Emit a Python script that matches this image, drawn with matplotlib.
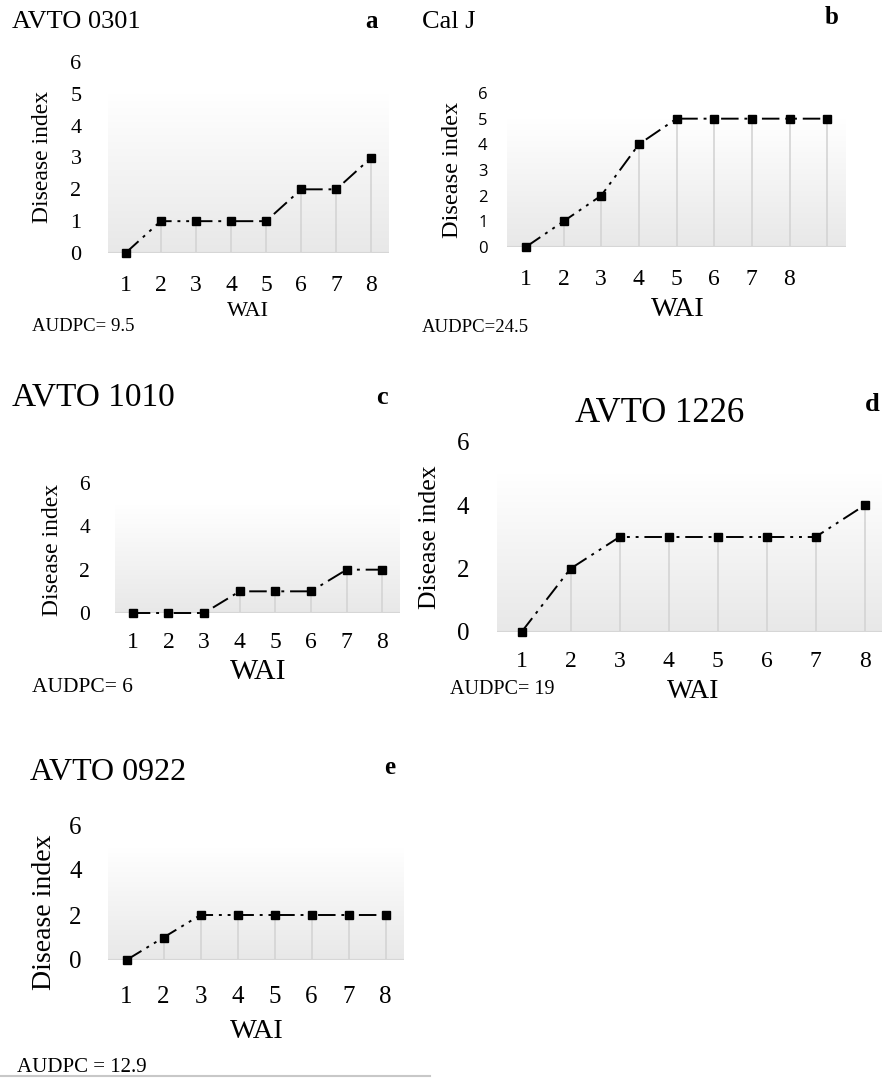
import numpy as np
import matplotlib
matplotlib.use("Agg")
import matplotlib.pyplot as plt
from matplotlib.colors import LinearSegmentedColormap
from matplotlib.lines import Line2D

# data (disease index per week after inoculation)
wai = [1, 2, 3, 4, 5, 6, 7, 8]
avto0301 = [0, 1, 1, 1, 1, 2, 2, 3]
calj = [0, 1, 2, 4, 5, 5, 5, 5, 5]
avto1010 = [0, 0, 0, 1, 1, 1, 2, 2]
avto1226 = [0, 2, 3, 3, 3, 3, 3, 4]
avto0922 = [0, 1, 2, 2, 2, 2, 2, 2]
yticks_a = [0, 1, 2, 3, 4, 5, 6]
yticks_b = [0, 1, 2, 3, 4, 5, 6]
yticks_even = [0, 2, 4, 6]

W, H = 882, 1078
SERIF = "Liberation Serif"
fig = plt.figure(figsize=(W / 100, H / 100), dpi=100)

grad = LinearSegmentedColormap.from_list("g", ["#e8e8e8", "#ffffff"])
dashdot2 = (0, (9, 3, 1.5, 3, 1.5, 3))


def fx(x):
    return x / W


def fy(y):
    return 1 - y / H


def panel(left, right, base, top6, vals, yt, ylab_size, xlab_size,
          ypad, xpad, yfont=SERIF, xt=None):
    # axes spans x = 0.5 .. n+0.5 and y = 0 .. 6
    ax = fig.add_axes([fx(left), fy(base), (right - left) / W, (base - top6) / H])
    n = len(vals)
    x = np.arange(1, n + 1)
    ax.set_xlim(0.5, n + 0.5)
    ax.set_ylim(0, 6)
    g = np.linspace(0, 1, 100).reshape(-1, 1)
    ax.imshow(g, cmap=grad, origin="lower", aspect="auto",
              extent=(0.5, n + 0.5, 0, 5), zorder=0)
    ax.vlines(x, 0, vals, colors="#d4d4d4", lw=1.2, zorder=1)
    ax.axhline(0, color="#d6d6d6", lw=1.6, zorder=1)
    ax.plot(x, vals, color="black", lw=1.4, ls=dashdot2, marker="s",
            ms=6, mfc="black", mec="black", zorder=3, clip_on=False)
    for s in ax.spines.values():
        s.set_visible(False)
    ax.set_yticks(yt)
    ax.set_yticklabels([str(v) for v in yt], family=yfont, fontsize=ylab_size)
    if xt is None:
        xt = list(x)
    ax.set_xticks(xt)
    ax.set_xticklabels([str(v) for v in xt], family=SERIF, fontsize=xlab_size)
    ax.tick_params(length=0)
    ax.tick_params(axis="y", pad=ypad)
    ax.tick_params(axis="x", pad=xpad)
    return ax


def txt(x, y, s, size, ha="left", weight="normal", rot=0, family=SERIF):
    fig.text(fx(x), fy(y), s, fontsize=size, ha=ha, va="center",
             fontweight=weight, rotation=rot, family=family)


# a
panel(108, 389, 253, 62, avto0301, yticks_a, 16, 17, 19, 15.5)
txt(12, 22, "AVTO 0301", 19)
txt(372, 21, "a", 18, ha="center", weight="bold")
txt(43, 157, "Disease index", 17, ha="center", rot=90)
txt(248, 312, "WAI", 16, ha="center")
txt(32, 326, "AUDPC= 9.5", 13.5)

# b
panel(507, 846, 247, 93, calj, yticks_b, 12, 17, 14, 15.5,
      yfont="Open Sans", xt=wai)
txt(422, 22, "Cal J", 19)
txt(832, 18, "b", 18, ha="center", weight="bold")
txt(453, 170, "Disease index", 17.5, ha="center", rot=90)
txt(678, 310, "WAI", 20.5, ha="center")
txt(422, 328, "AUDPC=24.5", 13.5)

# c
panel(115, 400, 613, 483, avto1010, yticks_even, 15.5, 17, 18, 14)
txt(12, 397, "AVTO 1010", 24)
txt(382, 397, "c", 19, ha="center", weight="bold")
txt(52, 550, "Disease index", 17, ha="center", rot=90)
txt(258, 672, "WAI", 21.5, ha="center")
txt(32, 687, "AUDPC= 6", 15.5)

# d
panel(497, 889, 632, 442, avto1226, yticks_even, 18, 17, 20, 14)
txt(660, 413, "AVTO 1226", 25, ha="center")
txt(872, 405, "d", 19, ha="center", weight="bold")
txt(430, 537, "Disease index", 18.5, ha="center", rot=90)
txt(693, 691, "WAI", 20, ha="center")
txt(450, 690, "AUDPC= 19", 14.5)

# e
panel(108, 404, 960, 825, avto0922, yticks_even, 18, 18, 19, 19)
txt(30, 772, "AVTO 0922", 23)
txt(390, 767, "e", 18, ha="center", weight="bold")
txt(45, 912, "Disease index", 20, ha="center", rot=90)
txt(257, 1032, "WAI", 20.5, ha="center")
txt(17, 1068, "AUDPC = 12.9", 15)

fig.add_artist(Line2D([0, fx(430)], [fy(1076), fy(1076)], color="#c8c8c8", lw=1.5))

fig.savefig("out.png", dpi=100)
